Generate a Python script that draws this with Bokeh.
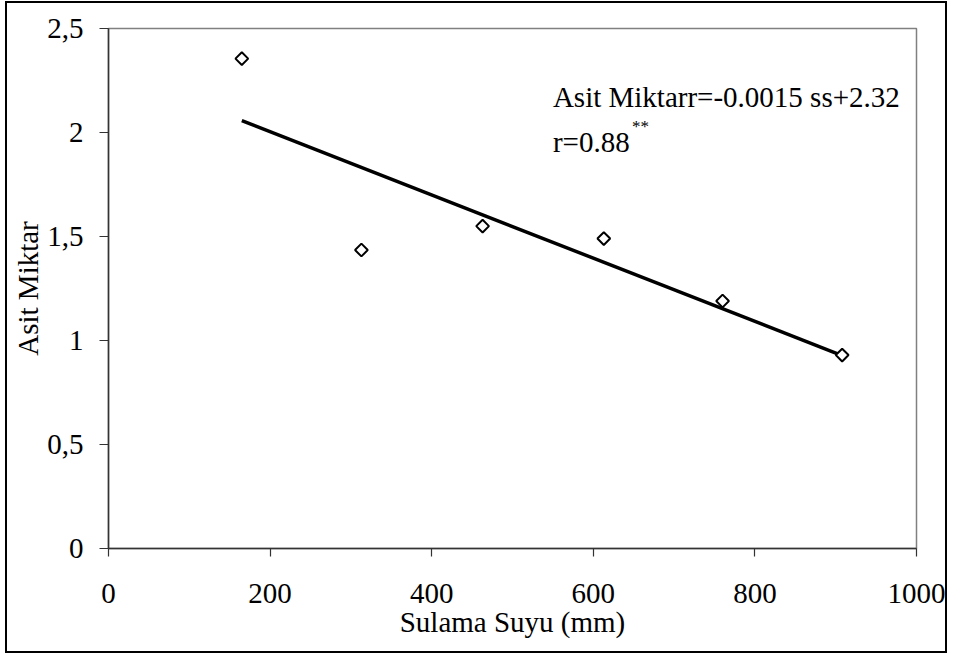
import numpy as np
from bokeh.plotting import figure
from bokeh.models import Range1d, FixedTicker, Label, ColumnDataSource, InlineStyleSheet
from bokeh.embed import file_html
from bokeh.resources import INLINE

# Irrigation water (mm) versus acid amount
sulama_suyu = [165, 313, 463, 613, 760, 908]
asit_miktari = [2.355, 1.435, 1.55, 1.49, 1.19, 0.93]

x_ticks = [0, 200, 400, 600, 800, 1000]
x_tick_labels = ["0", "200", "400", "600", "800", "1000"]
y_ticks = [0, 0.5, 1, 1.5, 2, 2.5]
y_tick_labels = ["0", "0,5", "1", "1,5", "2", "2,5"]

equation_text = "Asit Miktarr=-0.0015 ss+2.32"
r_text = "r=0.88"
r_sup = "**"
x_title = "Sulama Suyu (mm)"
y_title = "Asit Miktar"

FONT = "Liberation Serif"
FS = "29px"

p = figure(
    width=953, height=655,
    x_range=Range1d(0, 1000), y_range=Range1d(0, 2.5),
    output_backend="svg", toolbar_location=None,
    min_border_left=108, min_border_right=37,
    min_border_top=28, min_border_bottom=107,
)
p.background_fill_color = "white"
p.border_fill_color = "white"
p.grid.visible = False
p.outline_line_color = "#808080"
p.outline_line_width = 1.5

# axes
for ax in (p.xaxis[0], p.yaxis[0]):
    ax.axis_line_color = "#333333"
    ax.axis_line_width = 1.5
    ax.major_tick_line_color = "#333333"
    ax.major_tick_line_width = 1.2
    ax.minor_tick_line_color = None
    ax.major_tick_in = 0
    ax.major_label_text_font = FONT
    ax.major_label_text_font_size = FS
    ax.major_label_text_color = "black"
    ax.axis_label_text_font = FONT
    ax.axis_label_text_font_size = FS
    ax.axis_label_text_font_style = "normal"
    ax.axis_label_text_color = "black"

p.xaxis.ticker = FixedTicker(ticks=x_ticks)
p.xaxis.major_label_overrides = {t: s for t, s in zip(x_ticks, x_tick_labels)}
p.xaxis.major_tick_out = 8
p.xaxis.major_label_standoff = 27
p.xaxis.axis_label = x_title
p.xaxis.axis_label_standoff = 0

p.yaxis.ticker = FixedTicker(ticks=y_ticks)
p.yaxis.major_label_overrides = {t: s for t, s in zip(y_ticks, y_tick_labels)}
p.yaxis.major_tick_out = 9
p.yaxis.major_label_standoff = 16
p.yaxis.axis_label = y_title
p.yaxis.axis_label_standoff = 0

# linear fit of the observations
slope, intercept = np.polyfit(sulama_suyu, asit_miktari, 1)
fit_x = [min(sulama_suyu), max(sulama_suyu)]
fit_y = [slope * v + intercept for v in fit_x]
p.line(fit_x, fit_y, line_color="black", line_width=3.5)

src = ColumnDataSource(dict(x=sulama_suyu, y=asit_miktari))
p.scatter("x", "y", source=src, marker="square", angle=np.pi / 4, size=9,
          fill_color="white", line_color="black", line_width=2)

# equation annotation
p.add_layout(Label(x=550, y=2.173, text=equation_text, text_font=FONT,
                   text_font_size=FS, text_baseline="alphabetic",
                   text_align="left", text_color="black"))
p.add_layout(Label(x=550, y=1.952, text=r_text, text_font=FONT,
                   text_font_size=FS, text_baseline="alphabetic",
                   text_align="left", text_color="black"))
p.add_layout(Label(x=648, y=2.03, text=r_sup, text_font=FONT,
                   text_font_size="17px", text_baseline="alphabetic",
                   text_align="left", text_color="black"))

# frame around the whole chart
p.stylesheets = [InlineStyleSheet(css="""
:host { position: relative; }
:host::after {
  content: "";
  position: absolute;
  left: 5px; top: 1px; width: 942px; height: 652px;
  border: 2px solid black;
  box-sizing: border-box;
  pointer-events: none;
}
""")]

open("out.html", "w").write(file_html(p, INLINE))
